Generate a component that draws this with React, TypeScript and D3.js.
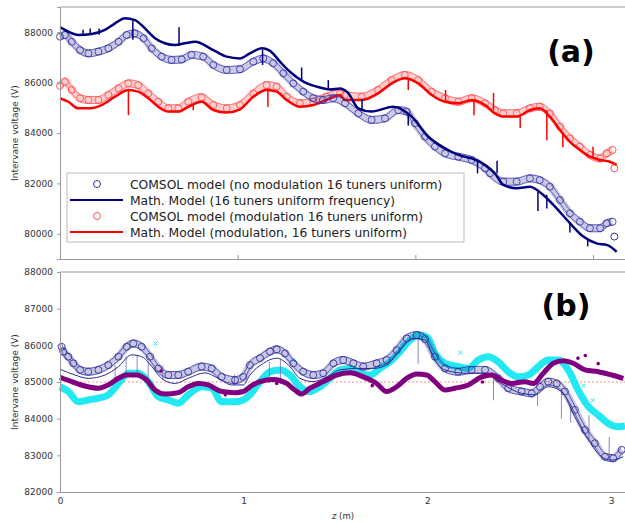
import React, { useEffect, useRef } from "react";
import * as d3 from "d3";

// ---- panel (a): 16 tuners uniform ----
const zComsolNoMod = [0, 0.028, 0.066, 0.113, 0.16, 0.216, 0.272, 0.33, 0.375, 0.42, 0.47, 0.516, 0.572, 0.628, 0.685, 0.74, 0.806, 0.863, 0.938, 1.013, 1.088, 1.144, 1.2, 1.257, 1.313, 1.369, 1.425, 1.48, 1.538, 1.604, 1.679, 1.754, 1.829, 1.904, 1.951, 1.998, 2.054, 2.11, 2.167, 2.242, 2.317, 2.392, 2.42, 2.495, 2.57, 2.645, 2.7, 2.757, 2.814, 2.87, 2.926, 2.983, 3.04, 3.077, 3.11];
const vComsolNoMod = [87820, 87890, 87620, 87290, 87160, 87230, 87360, 87620, 87890, 87950, 87760, 87360, 87030, 86900, 86920, 87100, 87030, 86700, 86500, 86530, 86830, 86960, 86770, 86370, 85970, 85640, 85380, 85310, 85380, 85180, 84780, 84520, 84580, 84910, 84850, 84380, 83850, 83460, 83190, 83060, 82930, 82600, 82400, 82070, 82070, 82200, 82130, 81870, 81340, 80810, 80480, 80220, 80220, 80420, 80480];
const zMathNoMod = [0, 0.047, 0.103, 0.178, 0.253, 0.31, 0.366, 0.422, 0.478, 0.535, 0.59, 0.647, 0.703, 0.76, 0.863, 0.938, 1.013, 1.069, 1.135, 1.18, 1.238, 1.294, 1.37, 1.445, 1.52, 1.576, 1.62, 1.679, 1.754, 1.876, 1.979, 2.073, 2.167, 2.242, 2.317, 2.392, 2.448, 2.495, 2.57, 2.645, 2.72, 2.795, 2.87, 2.945, 3.02, 3.077, 3.133];
const vMathNoMod = [88200, 88020, 87890, 87930, 88090, 88350, 88550, 88480, 88150, 87760, 87560, 87490, 87560, 87620, 87290, 87030, 86960, 87160, 87360, 87270, 86830, 86430, 86040, 85840, 85730, 85770, 85600, 84980, 84850, 85040, 84650, 83850, 83390, 83130, 82990, 82730, 82400, 81940, 81810, 81870, 81540, 81010, 80420, 79890, 79620, 79560, 79290];
const zComsolMod = [0, 0.028, 0.066, 0.113, 0.16, 0.216, 0.272, 0.33, 0.385, 0.44, 0.497, 0.553, 0.61, 0.666, 0.722, 0.797, 0.863, 0.938, 1.013, 1.088, 1.163, 1.219, 1.276, 1.35, 1.425, 1.5, 1.576, 1.604, 1.698, 1.79, 1.867, 1.941, 2.016, 2.092, 2.167, 2.242, 2.317, 2.392, 2.448, 2.495, 2.57, 2.645, 2.7, 2.757, 2.814, 2.87, 2.926, 2.983, 3.04, 3.077, 3.11];
const vComsolMod = [85870, 86040, 85710, 85380, 85310, 85310, 85510, 85770, 85970, 85900, 85570, 85240, 84980, 84980, 85240, 85420, 85110, 84980, 85110, 85570, 85900, 85840, 85440, 85180, 85240, 85440, 85570, 85510, 85440, 85710, 86100, 86300, 86100, 85640, 85380, 85240, 85380, 85180, 84910, 84780, 84780, 84980, 85040, 84780, 84250, 83790, 83460, 83130, 82990, 83190, 83330];
const zMathMod = [0, 0.047, 0.103, 0.16, 0.234, 0.31, 0.385, 0.44, 0.497, 0.553, 0.61, 0.666, 0.722, 0.797, 0.863, 0.938, 1.013, 1.088, 1.163, 1.219, 1.276, 1.35, 1.425, 1.5, 1.576, 1.604, 1.698, 1.79, 1.867, 1.941, 2.016, 2.092, 2.167, 2.242, 2.317, 2.392, 2.448, 2.495, 2.57, 2.645, 2.7, 2.757, 2.814, 2.87, 2.926, 2.983, 3.04, 3.095, 3.133];
const vMathMod = [85380, 85240, 84980, 84980, 85110, 85440, 85710, 85640, 85380, 85040, 84850, 84850, 85040, 85240, 84910, 84810, 84940, 85440, 85710, 85640, 85310, 85040, 85110, 85310, 85510, 85310, 85310, 85570, 85970, 86170, 85970, 85510, 85240, 85180, 85310, 85110, 84780, 84650, 84650, 84910, 84980, 84650, 84120, 83650, 83330, 83060, 82930, 82860, 82730];
// stray end points [z, v, series]
const outliersA = [[3.12, 79890, "b"], [3.12, 82600, "r"]];
// spikes on the math curves [z, from, to]
const spikesNoMod = [[0.13, 87850, 88100], [0.17, 87900, 88150], [0.22, 87900, 88150], [0.41, 88450, 87700], [0.67, 87450, 88200], [1.14, 87300, 86700], [1.36, 86100, 86600], [1.51, 85750, 86100], [1.7, 84950, 85350], [1.96, 84800, 84300], [2.35, 82950, 82400], [2.46, 82400, 82900], [2.69, 81700, 80900], [2.74, 81550, 81000], [2.87, 80450, 80050], [2.97, 79800, 79500]];
const spikesMod = [[0.385, 85700, 84710], [0.75, 85150, 84900], [1.17, 85700, 85030], [1.96, 86150, 85710], [2.17, 85240, 85710], [2.33, 85300, 84700], [2.44, 84900, 85590], [2.59, 84700, 84200], [2.74, 84900, 83710], [2.83, 84000, 83430], [3.0, 83000, 83450]];

// ---- panel (b) ----
const zComsolB = [0.009, 0.018, 0.045, 0.073, 0.109, 0.154, 0.209, 0.263, 0.318, 0.363, 0.399, 0.445, 0.49, 0.535, 0.59, 0.644, 0.698, 0.771, 0.826, 0.88, 0.953, 0.998, 1.034, 1.089, 1.143, 1.18, 1.225, 1.27, 1.324, 1.379, 1.433, 1.488, 1.542, 1.597, 1.651, 1.724, 1.778, 1.833, 1.887, 1.942, 1.987, 2.041, 2.096, 2.168, 2.241, 2.314, 2.386, 2.44, 2.513, 2.568, 2.613, 2.658, 2.704, 2.749, 2.803, 2.858, 2.912, 2.967, 3.012, 3.058];
const vComsolB = [85960, 85830, 85690, 85510, 85330, 85280, 85330, 85460, 85690, 85960, 86050, 85960, 85690, 85370, 85190, 85190, 85280, 85420, 85370, 85140, 85050, 85140, 85460, 85650, 85830, 85890, 85780, 85510, 85280, 85190, 85240, 85510, 85600, 85510, 85420, 85510, 85600, 85870, 86190, 86280, 86170, 85690, 85370, 85280, 85330, 85330, 85100, 84830, 84740, 84690, 84870, 85010, 84960, 84740, 84240, 83690, 83330, 82960, 82920, 83150];
const zMathB = [0, 0.082, 0.154, 0.245, 0.318, 0.39, 0.445, 0.5, 0.553, 0.626, 0.698, 0.789, 0.862, 0.935, 0.998, 1.034, 1.107, 1.18, 1.252, 1.306, 1.379, 1.452, 1.524, 1.615, 1.706, 1.778, 1.851, 1.923, 1.987, 2.041, 2.096, 2.205, 2.314, 2.404, 2.513, 2.586, 2.658, 2.731, 2.803, 2.876, 2.949, 3.003, 3.067];
const vMathB = [85350, 85190, 85100, 85190, 85420, 85740, 85690, 85420, 85100, 84960, 85100, 85250, 85100, 84920, 84920, 85190, 85510, 85650, 85420, 85100, 85010, 85140, 85330, 85370, 85370, 85460, 85870, 86190, 86140, 85600, 85330, 85240, 85240, 84960, 84690, 84650, 84870, 84740, 84050, 83420, 82960, 82870, 82960];
const zCyan = [0, 0.045, 0.1, 0.154, 0.209, 0.263, 0.318, 0.372, 0.426, 0.481, 0.535, 0.59, 0.644, 0.698, 0.771, 0.826, 0.88, 0.953, 0.998, 1.034, 1.089, 1.143, 1.198, 1.252, 1.306, 1.361, 1.415, 1.47, 1.524, 1.579, 1.633, 1.688, 1.742, 1.796, 1.851, 1.905, 1.96, 2.0, 2.041, 2.096, 2.168, 2.223, 2.277, 2.332, 2.386, 2.44, 2.495, 2.549, 2.604, 2.658, 2.713, 2.767, 2.821, 2.876, 2.93, 2.985, 3.039, 3.076];
const vCyan = [84870, 84740, 84460, 84510, 84560, 84650, 84960, 85240, 85240, 85010, 84600, 84510, 84420, 84650, 84870, 84830, 84460, 84460, 84510, 84650, 85010, 85280, 85330, 85190, 84870, 84740, 84870, 85100, 85330, 85370, 85240, 85190, 85370, 85550, 85830, 86140, 86280, 86220, 85780, 85510, 85420, 85370, 85600, 85690, 85550, 85280, 85140, 85190, 85420, 85600, 85600, 85330, 84780, 84330, 84100, 83870, 83780, 83800];
const zPurple = [0, 0.064, 0.136, 0.209, 0.263, 0.318, 0.363, 0.417, 0.472, 0.517, 0.572, 0.644, 0.698, 0.753, 0.807, 0.88, 0.953, 0.998, 1.034, 1.089, 1.161, 1.234, 1.279, 1.315, 1.361, 1.433, 1.506, 1.579, 1.651, 1.724, 1.778, 1.833, 1.887, 1.942, 1.996, 2.041, 2.096, 2.15, 2.223, 2.296, 2.35, 2.404, 2.459, 2.531, 2.577, 2.631, 2.686, 2.74, 2.794, 2.858, 2.93, 3.003, 3.067];
const vPurple = [85130, 85010, 84890, 84830, 84920, 85100, 85190, 85190, 85050, 84780, 84670, 84710, 84870, 84960, 84920, 84740, 84710, 84740, 84870, 85010, 85070, 84960, 84780, 84670, 84830, 85010, 85190, 85250, 85140, 84960, 84740, 84870, 85100, 85220, 85190, 85010, 84780, 84830, 84920, 85140, 85190, 85050, 84960, 85010, 84960, 85240, 85510, 85580, 85510, 85330, 85280, 85190, 85100];
const spikesB = [[0.3, 85450, 85000], [0.36, 85700, 85150], [0.42, 85740, 85250], [0.48, 85550, 85050], [0.56, 85050, 85450], [0.95, 84900, 85200], [1.14, 85550, 85000], [1.2, 85620, 84950], [1.95, 86180, 85500], [2.36, 85150, 84500], [2.6, 84700, 84350], [2.73, 84800, 84000], [2.78, 84400, 83900], [2.88, 83400, 84100], [2.99, 82900, 83500]];
const purpleDots = [[0.55, 85300], [0.9, 84650], [1.18, 84960], [1.7, 84900], [2.3, 85000], [2.82, 85650], [2.86, 85720], [2.93, 85500]];
const cyanCrosses = [[0.52, 86050], [1.27, 85600], [1.86, 86050], [2.18, 85800], [2.6, 85300], [2.85, 84900], [2.9, 84500]];
const yTicksA = [80000, 82000, 84000, 86000, 88000];
const yTicksB = [82000, 83000, 84000, 85000, 86000, 87000, 88000];
const zTicks = [0, 1, 2, 3];
const legendLabels = [
  "COMSOL model (no modulation 16 tuners uniform)",
  "Math. Model (16 tuners uniform frequency)",
  "COMSOL model (modulation 16 tuners uniform)",
  "Math. Model (modulation, 16 tuners uniform)",
];

const navy = "#000080";
const blueC = "#3434a4";
const red = "#ff0000";
const redC = "#ff4a4a";
const cyan = "#22e8f2";
const purple = "#800080";
const font = "DejaVu Sans, sans-serif";

const zip = (z: number[], v: number[]) => z.map((d, i) => [d, v[i]]);

export default function App() {
  const ref = useRef<SVGSVGElement>(null);

  useEffect(() => {
    const svg = d3.select(ref.current);
    svg.selectAll("*").remove();
    const W = 625;

    // circles series: the markers plus a faint band so the dense run of circles reads as one
    const drawCircles = (g: any, pts: number[][], x: any, y: any, col: string) => {
      const ln = (off: number) => d3.line<number[]>().x(d => x(d[0])).y(d => y(d[1]) + off).curve(d3.curveMonotoneX)(pts);
      g.append("path").attr("d", ln(0)).attr("fill", "none").attr("stroke", col).attr("stroke-width", 8).attr("opacity", 0.26);
      g.append("path").attr("d", ln(-3.5)).attr("fill", "none").attr("stroke", col).attr("stroke-width", 1).attr("opacity", 0.7);
      g.append("path").attr("d", ln(3.5)).attr("fill", "none").attr("stroke", col).attr("stroke-width", 1).attr("opacity", 0.7);
      g.selectAll(null).data(pts).enter().append("circle")
        .attr("cx", (d: number[]) => x(d[0])).attr("cy", (d: number[]) => y(d[1])).attr("r", 3.5)
        .attr("fill", "none").attr("stroke", col).attr("stroke-width", 1).attr("opacity", 0.85);
    };

    // ---------- panel (a) ----------
    const xA = d3.scaleLinear().domain([0, 3.18]).range([60, W]);
    const yA = d3.scaleLinear().domain([79000, 89000]).range([259, 7]);
    const gA = svg.append("g");
    const lineA = d3.line<number[]>().x(d => xA(d[0])).y(d => yA(d[1])).curve(d3.curveMonotoneX);

    drawCircles(gA, zip(zComsolMod, vComsolMod), xA, yA, redC);
    gA.append("path").attr("d", lineA(zip(zMathMod, vMathMod))).attr("fill", "none").attr("stroke", red).attr("stroke-width", 2.5);
    gA.selectAll(".spm").data(spikesMod).enter().append("line")
      .attr("x1", d => xA(d[0])).attr("x2", d => xA(d[0])).attr("y1", d => yA(d[1])).attr("y2", d => yA(d[2]))
      .attr("stroke", red).attr("stroke-width", 1.5);
    drawCircles(gA, zip(zComsolNoMod, vComsolNoMod), xA, yA, blueC);
    gA.append("path").attr("d", lineA(zip(zMathNoMod, vMathNoMod))).attr("fill", "none").attr("stroke", navy).attr("stroke-width", 2.5);
    gA.selectAll(".spn").data(spikesNoMod).enter().append("line")
      .attr("x1", d => xA(d[0])).attr("x2", d => xA(d[0])).attr("y1", d => yA(d[1])).attr("y2", d => yA(d[2]))
      .attr("stroke", navy).attr("stroke-width", 1.5);
    gA.selectAll(".out").data(outliersA).enter().append("circle")
      .attr("cx", (d: any) => xA(d[0])).attr("cy", (d: any) => yA(d[1])).attr("r", 3.5)
      .attr("fill", "none").attr("stroke", (d: any) => (d[2] === "b" ? blueC : redC));

    // axes (a)
    gA.append("g").attr("transform", "translate(60,0)")
      .call(d3.axisLeft(yA).tickValues(yTicksA).tickSize(3).tickPadding(4).tickFormat(d3.format("d")));
    gA.append("g").attr("transform", "translate(0,259)")
      .call(d3.axisTop(xA).tickValues(zTicks).tickSize(4).tickFormat(() => ""));
    gA.append("line").attr("x1", 60).attr("x2", W).attr("y1", 7).attr("y2", 7).attr("stroke", "#999");

    // legend
    const lg = gA.append("g").attr("transform", "translate(67,173)");
    lg.append("rect").attr("width", 397).attr("height", 69).attr("fill", "white").attr("stroke", "#bbb");
    legendLabels.forEach((t, i) => {
      const yy = 11 + i * 16;
      const col = i < 2 ? (i === 0 ? blueC : navy) : (i === 2 ? redC : red);
      if (i % 2 === 0) {
        lg.append("circle").attr("cx", 30).attr("cy", yy).attr("r", 3.5).attr("fill", "none").attr("stroke", col);
      } else {
        lg.append("line").attr("x1", 3).attr("x2", 56).attr("y1", yy).attr("y2", yy).attr("stroke", col).attr("stroke-width", 2);
      }
      lg.append("text").attr("x", 63).attr("y", yy + 4.5).attr("font-size", 12.3).attr("fill", "#222").text(t);
    });

    gA.append("text").attr("x", 571).attr("y", 62).attr("text-anchor", "middle")
      .attr("font-size", 30).attr("font-weight", "bold").attr("fill", "black").text("(a)");

    // ---------- panel (b) ----------
    const xB = d3.scaleLinear().domain([0, 3.076]).range([60, W]);
    const yB = d3.scaleLinear().domain([82000, 88000]).range([492, 272]);
    const gB = svg.append("g");
    const lineB = d3.line<number[]>().x(d => xB(d[0])).y(d => yB(d[1])).curve(d3.curveMonotoneX);

    gB.append("line").attr("x1", xB(0)).attr("x2", W).attr("y1", yB(85000)).attr("y2", yB(85000))
      .attr("stroke", "#ff8a8a").attr("stroke-width", 1).attr("stroke-dasharray", "2,2");
    gB.append("path").attr("d", lineB(zip(zCyan, vCyan))).attr("fill", "none").attr("stroke", cyan).attr("stroke-width", 7);
    gB.selectAll(".cx").data(cyanCrosses).enter().append("path")
      .attr("d", d => `M${xB(d[0]) - 2},${yB(d[1]) - 2}L${xB(d[0]) + 2},${yB(d[1]) + 2}M${xB(d[0]) - 2},${yB(d[1]) + 2}L${xB(d[0]) + 2},${yB(d[1]) - 2}`)
      .attr("stroke", cyan).attr("stroke-width", 1);
    gB.selectAll(".spb").data(spikesB).enter().append("line")
      .attr("x1", d => xB(d[0])).attr("x2", d => xB(d[0])).attr("y1", d => yB(d[1])).attr("y2", d => yB(d[2]))
      .attr("stroke", "#6a6ab8").attr("stroke-width", 0.8);
    gB.append("path").attr("d", lineB(zip(zMathB, vMathB))).attr("fill", "none").attr("stroke", "#2a2a96").attr("stroke-width", 1);
    drawCircles(gB, zip(zComsolB, vComsolB), xB, yB, "#2c2c9a");
    gB.append("path").attr("d", lineB(zip(zPurple, vPurple))).attr("fill", "none").attr("stroke", purple).attr("stroke-width", 5);
    gB.selectAll(".pd").data(purpleDots).enter().append("circle")
      .attr("cx", d => xB(d[0])).attr("cy", d => yB(d[1])).attr("r", 1.8).attr("fill", purple);

    gB.append("g").attr("transform", "translate(60,0)")
      .call(d3.axisLeft(yB).tickValues(yTicksB).tickSize(3).tickPadding(4).tickFormat(d3.format("d")));
    gB.append("g").attr("transform", "translate(0,492)")
      .call(d3.axisBottom(xB).tickValues(zTicks).tickSize(0).tickPadding(6).tickFormat(d3.format("d")));
    gB.append("line").attr("x1", 60).attr("x2", W).attr("y1", 272).attr("y2", 272).attr("stroke", "#999");

    gB.append("text").attr("x", 566).attr("y", 316).attr("text-anchor", "middle")
      .attr("font-size", 30).attr("font-weight", "bold").attr("fill", "black").text("(b)");

    svg.selectAll(".domain").attr("stroke", "#999");
    svg.selectAll(".tick line").attr("stroke", "#999");
    svg.selectAll(".tick text").attr("font-size", 9).attr("font-family", font).attr("fill", "#333");

    // axis titles
    svg.append("text").attr("transform", "translate(18,133) rotate(-90)").attr("text-anchor", "middle")
      .attr("font-size", 9).attr("fill", "#333").text("Intervane voltage (V)");
    svg.append("text").attr("transform", "translate(18,382) rotate(-90)").attr("text-anchor", "middle")
      .attr("font-size", 9).attr("fill", "#333").text("Intervane voltage (V)");
    const zl = svg.append("text").attr("x", 343).attr("y", 519).attr("text-anchor", "middle")
      .attr("font-size", 8.5).attr("fill", "#333");
    zl.append("tspan").attr("font-style", "italic").text("z");
    zl.append("tspan").text(" (m)");
  }, []);

  return (
    <svg ref={ref} width={625} height={523}
      style={{ position: "absolute", left: 0, top: 0, background: "white", fontFamily: font }} />
  );
}
